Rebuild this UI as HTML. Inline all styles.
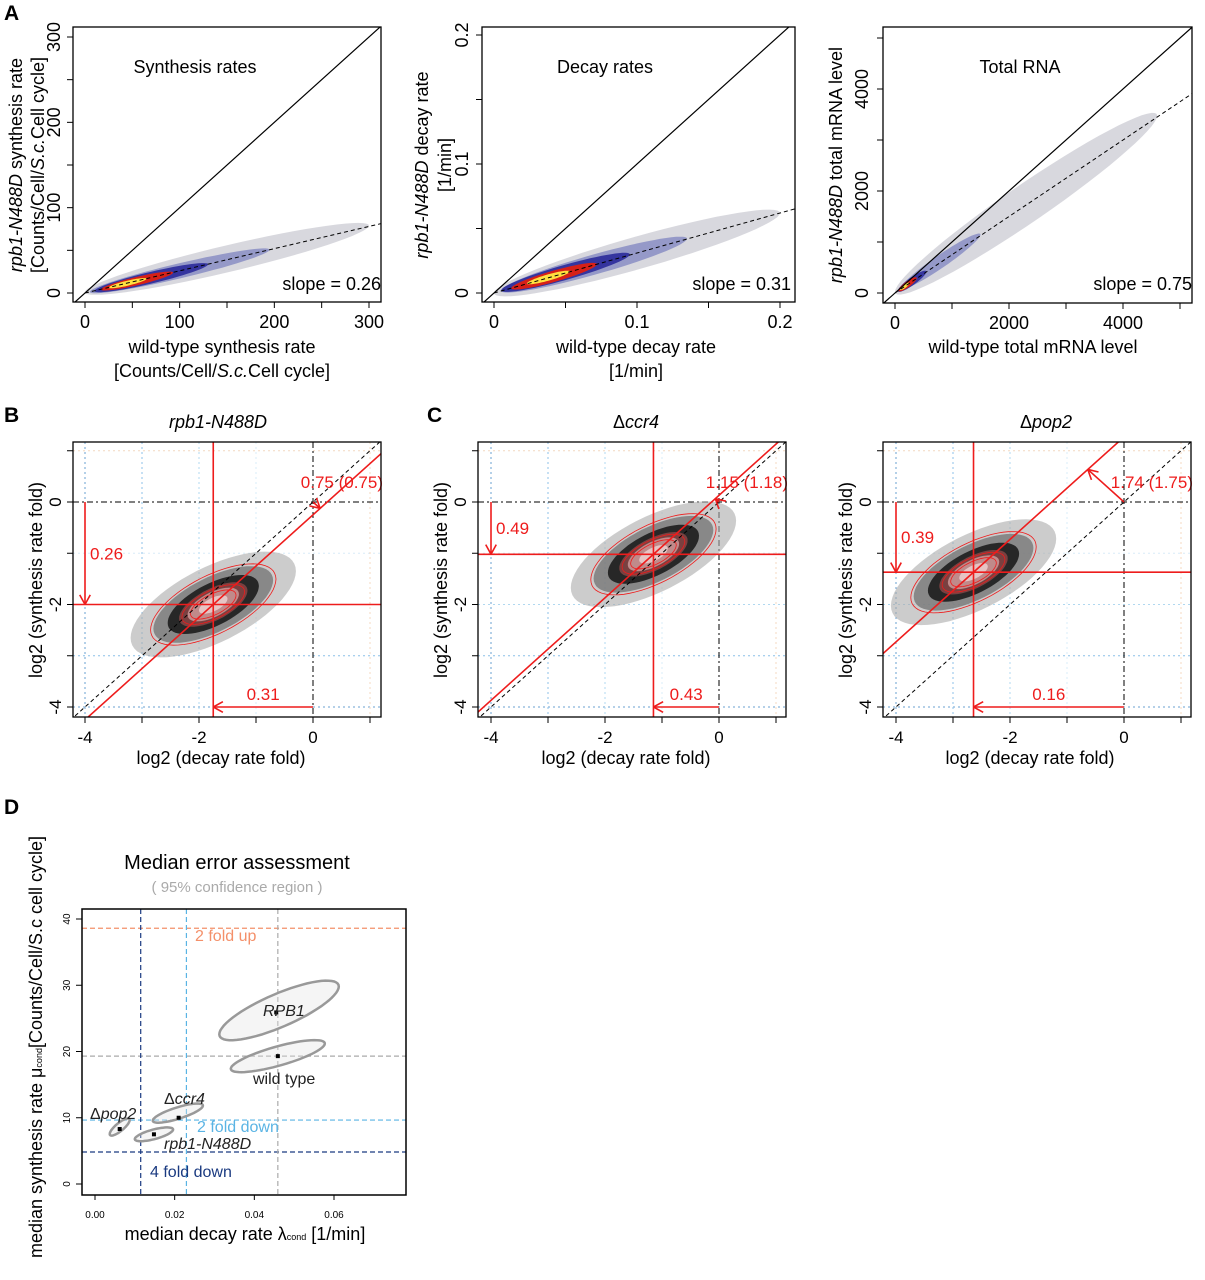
<!DOCTYPE html>
<html><head><meta charset="utf-8"><style>
body{margin:0;background:#fff}
svg{display:block;font-family:"Liberation Sans",sans-serif}
</style></head><body>
<svg id="fig" width="1205" height="1280" viewBox="0 0 1205 1280">
<defs>
<clipPath id="cA1"><rect x="73" y="27" width="308" height="275"/></clipPath>
<clipPath id="cA2"><rect x="482" y="27" width="313" height="275"/></clipPath>
<clipPath id="cA3"><rect x="883" y="27" width="309" height="276"/></clipPath>
<clipPath id="cB"><rect x="73" y="442" width="308" height="275"/></clipPath>
<clipPath id="cC"><rect x="478" y="442" width="308" height="275"/></clipPath>
<clipPath id="cP"><rect x="883" y="442" width="308" height="275"/></clipPath>
<clipPath id="cD"><rect x="82" y="909" width="324" height="286"/></clipPath>
</defs>
<g font-weight="bold" font-size="21">
<text x="4" y="20">A</text>
<text x="4" y="422">B</text>
<text x="427" y="422">C</text>
<text x="4" y="814">D</text>
</g>
<g font-size="18">
<text x="195" y="73" text-anchor="middle">Synthesis rates</text>
<text x="605" y="73" text-anchor="middle">Decay rates</text>
<text x="1020" y="73" text-anchor="middle">Total RNA</text>
<text x="381" y="290" text-anchor="end">slope = 0.26</text>
<text x="791" y="290" text-anchor="end">slope = 0.31</text>
<text x="1192" y="290" text-anchor="end">slope = 0.75</text>
<text x="222" y="353" text-anchor="middle">wild-type synthesis rate</text>
<text x="222" y="377" text-anchor="middle">[Counts/Cell/<tspan font-style="italic">S.c.</tspan>Cell cycle]</text>
<text x="636" y="353" text-anchor="middle">wild-type decay rate</text>
<text x="636" y="377" text-anchor="middle">[1/min]</text>
<text x="1033" y="353" text-anchor="middle">wild-type total mRNA level</text>
<text transform="translate(22,165) rotate(-90)" text-anchor="middle"><tspan font-style="italic">rpb1-N488D</tspan> synthesis rate</text>
<text transform="translate(44,165) rotate(-90)" text-anchor="middle">[Counts/Cell/<tspan font-style="italic">S.c.</tspan>Cell cycle]</text>
<text transform="translate(428,165) rotate(-90)" text-anchor="middle"><tspan font-style="italic">rpb1-N488D</tspan> decay rate</text>
<text transform="translate(451,165) rotate(-90)" text-anchor="middle">[1/min]</text>
<text transform="translate(842,165) rotate(-90)" text-anchor="middle"><tspan font-style="italic">rpb1-N488D</tspan> total mRNA level</text>
<text x="218" y="428" text-anchor="middle" font-style="italic">rpb1-N488D</text>
<text x="636" y="428" text-anchor="middle">Δ<tspan font-style="italic">ccr4</tspan></text>
<text x="1046" y="428" text-anchor="middle">Δ<tspan font-style="italic">pop2</tspan></text>
<text x="221" y="764" text-anchor="middle">log2 (decay rate fold)</text>
<text x="626" y="764" text-anchor="middle">log2 (decay rate fold)</text>
<text x="1030" y="764" text-anchor="middle">log2 (decay rate fold)</text>
<text transform="translate(42,580) rotate(-90)" text-anchor="middle">log2 (synthesis rate fold)</text>
<text transform="translate(447,580) rotate(-90)" text-anchor="middle">log2 (synthesis rate fold)</text>
<text transform="translate(852,580) rotate(-90)" text-anchor="middle">log2 (synthesis rate fold)</text>
<text x="237" y="869" text-anchor="middle" font-size="20">Median error assessment</text>
<text x="237" y="892" text-anchor="middle" font-size="15" fill="#aaa">( 95% confidence region )</text>
<text x="245" y="1240" text-anchor="middle">median decay rate λ<tspan font-size="9">cond</tspan>    [1/min]</text>
<text transform="translate(42,1047) rotate(-90)" text-anchor="middle">median synthesis rate μ<tspan font-size="9">cond</tspan>[Counts/Cell/S.c cell cycle]</text>
</g>
</svg>
<script>
// ---- Panel A data ----
const a1Ticks=[0,50,100,150,200,250,300], a1Labels=["0","","100","","200","","300"];
const a2Ticks=[0,0.05,0.1,0.15,0.2], a2Labels=["0","","0.1","","0.2"];
const a3Ticks=[0,1000,2000,3000,4000,5000], a3Labels=["0","","2000","","4000",""];
const a1Slope=0.26, a2Slope=0.31, a3Slope=0.75;
const a1Cx=[150,100,70,55,45], a1Cy=[40,26,18,14,11.5], a1A=[150,95,60,38,20], a1B=[16,9,7,5,3];
const a2Cx=[0.1,0.07,0.05,0.042,0.038], a2Cy=[0.031,0.022,0.016,0.013,0.012], a2A=[0.1,0.065,0.045,0.03,0.015], a2B=[0.013,0.008,0.006,0.0045,0.0025];
const a3Cx=[2300,800,300,220,170], a3Cy=[1750,620,230,170,130], a3A=[2300,700,250,160,80], a3B=[450,150,90,70,40];
// ---- Panel B/C data ----
const bcTicks=[-4,-3,-2,-1,0,1], bcLabels=["-4","","-2","","0",""];
const medDecay=[-1.75,-1.15,-2.64], medSynth=[-2.0,-1.02,-1.37];
const diagLabel=["0.75 (0.75)","1.15 (1.18)","1.74 (1.75)"], synthLabel=["0.26","0.49","0.39"], decayLabel=["0.31","0.43","0.16"];
// ---- Panel D data ----
const dXTicks=[0,0.02,0.04,0.06], dXLabels=["0.00","0.02","0.04","0.06"];
const dYTicks=[0,10,20,30,40];
const ellName=["RPB1","wild type","ccr4","rpb1-N488D","pop2"];
const ellCx=[0.0462,0.0459,0.0208,0.0148,0.0062], ellCy=[26.2,19.3,10.7,7.5,8.6];
const ellA=[0.015,0.0118,0.0063,0.0048,0.0025], ellS=[240,161,180,150,420], ellB=[2.7,1.5,0.9,0.75,0.75];
const medX=[0.0455,0.0459,0.021,0.0148,0.0062], medY=[25.9,19.3,10.0,7.5,8.3];
const wtMedDecay=0.0459, wtMedSynth=19.3;

const svg=document.getElementById('fig'), NS='http://www.w3.org/2000/svg';
function el(tag,at,p){const e=document.createElementNS(NS,tag);for(const k in at)e.setAttribute(k,at[k]);(p||svg).appendChild(e);return e;}
function lin(d0,d1,r0,r1){return v=>r0+(v-d0)*(r1-r0)/(d1-d0);}
function ellPts(sx,sy,cx,cy,a,b,s){let p=[];for(let i=0;i<64;i++){const t=i/64*2*Math.PI;const x=cx+a*Math.cos(t),y=cy+s*a*Math.cos(t)+b*Math.sin(t);p.push(sx(x).toFixed(1)+','+sy(y).toFixed(1));}return p.join(' ');}

function axes(g,box,sx,sy,xt,xl,yt,yl,ylx,fs){
  const r=el('rect',{x:box[0],y:box[1],width:box[2]-box[0],height:box[3]-box[1],fill:'none',stroke:'#000','stroke-width':1.3},g);
  
  
  xt.forEach((v,i)=>{el('line',{x1:sx(v),x2:sx(v),y1:box[3],y2:box[3]+6,stroke:'#000'},g);
    if(xl[i]){const t=el('text',{x:sx(v),y:box[3]+26,'text-anchor':'middle','font-size':fs},g);t.textContent=xl[i];
    
    }});
  yt.forEach((v,i)=>{el('line',{x1:box[0],x2:box[0]-6,y1:sy(v),y2:sy(v),stroke:'#000'},g);
    if(yl[i]){const t=el('text',{transform:`translate(${ylx},${sy(v)}) rotate(-90)`,'text-anchor':'middle','font-size':fs},g);t.textContent=yl[i];
    
    }});
}

// Panel A
const aCols=['#c8c8d0','#8a8ec4','#2a2a9a','#e02010','#ffe040'];
const aOp=[0.7,0.85,0.9,0.95,1];
function panelA(id,box,sx,sy,xt,xl,yt,yl,ylx,slope,cx,cy,A,B,clip){
  const g=el('g',{});
  
  
  const c=el('g',{'clip-path':`url(#${clip})`},g);
  for(let i=0;i<cx.length;i++){const p=el('polygon',{points:ellPts(sx,sy,cx[i],cy[i],A[i],B[i],slope),fill:aCols[i],opacity:aOp[i]},c);
    
    }
  const big=xt[xt.length-1]*2;
  const d=el('line',{x1:sx(-big),y1:sy(-big),x2:sx(big),y2:sy(big),stroke:'#000','stroke-width':1.2},c);
  
  
  const f=el('line',{x1:sx(0),y1:sy(0),x2:sx(big),y2:sy(slope*big),stroke:'#000','stroke-dasharray':'4,3'},c);
  
  
  axes(g,box,sx,sy,xt,xl,yt,yl,ylx,18);
}
panelA('plot-synthesis',[73,27,381,302],lin(0,300,85,369),lin(0,300,293,37),a1Ticks,a1Labels,a1Ticks,a1Labels,60,a1Slope,a1Cx,a1Cy,a1A,a1B,'cA1');
panelA('plot-decay',[482,27,795,302],lin(0,0.1,494,637),lin(0,0.1,293,164),a2Ticks,a2Labels,a2Ticks,a2Labels,468,a2Slope,a2Cx,a2Cy,a2A,a2B,'cA2');
panelA('plot-total-rna',[883,27,1192,303],lin(0,2000,895,1009),lin(0,2000,293,191),a3Ticks,a3Labels,a3Ticks,a3Labels,868,a3Slope,a3Cx,a3Cy,a3A,a3B,'cA3');

// Panels B/C/pop2
const RED='#ee1c1c';
function arrowHead(g,x2,y2,ang){const L=11;[0.5,-0.5].forEach(d=>{el('line',{x1:x2,y1:y2,x2:x2+L*Math.cos(ang+d),y2:y2+L*Math.sin(ang+d),stroke:RED,'stroke-width':1.6},g);});}
function panelBC(k,name,box,x0,clip){
  const sx=lin(-4,0,x0,x0+228), sy=lin(0,-4,502,707);
  const g=el('g',{});
  
  
  const c=el('g',{'clip-path':`url(#${clip})`},g);
  [[-4,'#6aa0d0'],[-3,'#8cc0e8'],[-2,'#b0d8f0'],[-1,'#d8ecf8']].forEach(([v,col])=>{
    el('line',{x1:sx(v),x2:sx(v),y1:box[1],y2:box[3],stroke:col,'stroke-dasharray':'2,3'},c);
    el('line',{x1:box[0],x2:box[2],y1:sy(v),y2:sy(v),stroke:col,'stroke-dasharray':'2,3'},c);});
  el('line',{x1:sx(1),x2:sx(1),y1:box[1],y2:box[3],stroke:'#f4d8c0','stroke-dasharray':'2,3'},c);
  el('line',{x1:box[0],x2:box[2],y1:sy(1),y2:sy(1),stroke:'#f4d8c0','stroke-dasharray':'2,3'},c);
  el('line',{x1:sx(0),x2:sx(0),y1:box[1],y2:box[3],stroke:'#000','stroke-dasharray':'6,3,2,3'},c);
  el('line',{x1:box[0],x2:box[2],y1:sy(0),y2:sy(0),stroke:'#000','stroke-dasharray':'6,3,2,3'},c);
  const mx=medDecay[k], my=medSynth[k];
  const layers=[[1.45,0.8,'#aaa',0.6],[1.05,0.58,'#777',0.8],[0.8,0.45,'#222',0.95],[0.6,0.34,'#7a4040',1],[0.45,0.26,'#c08a8a',1],[0.25,0.14,'#e6c4c4',1]];
  layers.forEach(([a,b,col,op])=>{const p=el('polygon',{points:ellPts(sx,sy,mx,my,a,b,0.45),fill:col,opacity:op},c);
    
    });
  [[1.1,0.62],[0.55,0.3],[0.4,0.22]].forEach(([a,b])=>el('polygon',{points:ellPts(sx,sy,mx,my,a,b,0.45),fill:'none',stroke:RED,'stroke-width':0.8},c));
  const off=my-mx;
  el('line',{x1:sx(-6),y1:sy(-6),x2:sx(3),y2:sy(3),stroke:'#000','stroke-dasharray':'4,3'},c);
  const rl=el('line',{x1:sx(-6),y1:sy(-6+off),x2:sx(3),y2:sy(3+off),stroke:RED,'stroke-width':1.6},c);
  
  
  const vl=el('line',{x1:sx(mx),x2:sx(mx),y1:box[1],y2:box[3],stroke:RED,'stroke-width':1.6},c);
  
  
  const hl=el('line',{x1:box[0],x2:box[2],y1:sy(my),y2:sy(my),stroke:RED,'stroke-width':1.6},c);
  
  
  el('line',{x1:sx(-4),y1:sy(0),x2:sx(-4),y2:sy(my),stroke:RED,'stroke-width':1.6},g);arrowHead(g,sx(-4),sy(my),-Math.PI/2);
  el('line',{x1:sx(0),y1:sy(-4),x2:sx(mx),y2:sy(-4),stroke:RED,'stroke-width':1.6},g);arrowHead(g,sx(mx),sy(-4),0);
  const fx=-off/2, fy=off/2, ax=sx(fx), ay=sy(fy);
  el('line',{x1:sx(0),y1:sy(0),x2:ax,y2:ay,stroke:RED,'stroke-width':1.6},g);
  arrowHead(g,ax,ay,Math.atan2(sy(0)-ay,sx(0)-ax));
  const t1=el('text',{x:box[2]+2,y:488,'text-anchor':'end','font-size':17,fill:RED},g);t1.textContent=diagLabel[k];
  
  
  const t2=el('text',{x:sx(-4)+5,y:sy(0)+(sy(my)-sy(0))/2+6,'font-size':17,fill:RED},g);t2.textContent=synthLabel[k];
  
  
  const t3=el('text',{x:(sx(0)+sx(mx))/2,y:sy(-4)-7,'text-anchor':'middle','font-size':17,fill:RED},g);t3.textContent=decayLabel[k];
  
  
  axes(g,box,sx,sy,bcTicks,bcLabels,bcTicks,bcLabels,box[0]-12,17);
}
panelBC(0,'plot-rpb1',[73,442,381,717],85,'cB');
panelBC(1,'plot-ccr4',[478,442,786,717],491,'cC');
panelBC(2,'plot-pop2',[883,442,1191,717],896,'cP');

// Panel D
(function(){
  const sx=lin(0,0.06,95,334), sy=lin(0,40,1184,919), box=[82,909,406,1195];
  const g=el('g',{});
  
  
  const c=el('g',{'clip-path':'url(#cD)'},g);
  const hl=[[wtMedSynth*2,'#f4906a','2 fold up',195,941],[wtMedSynth,'#aaa','',0,0],[wtMedSynth/2,'#5ab4e4','2 fold down',197,1132],[wtMedSynth/4,'#1a3a80','4 fold down',150,1177]];
  hl.forEach(([v,col,lab,lx,ly])=>{const l=el('line',{x1:box[0],x2:box[2],y1:sy(v),y2:sy(v),stroke:col,'stroke-dasharray':'5,3','stroke-width':1.2},c);
    
    
    if(lab){const t=el('text',{x:lx,y:ly,'font-size':16,fill:col},g);t.textContent=lab;
    
    }});
  [[wtMedDecay/4,'#1a3a80'],[wtMedDecay/2,'#5ab4e4'],[wtMedDecay,'#aaa']].forEach(([v,col])=>el('line',{x1:sx(v),x2:sx(v),y1:box[1],y2:box[3],stroke:col,'stroke-dasharray':'5,3','stroke-width':1.2},c));
  for(let i=0;i<ellCx.length;i++){
    const p=el('polygon',{points:ellPts(sx,sy,ellCx[i],ellCy[i],ellA[i],ellB[i],ellS[i]),fill:'rgba(225,225,225,0.35)',stroke:'#999','stroke-width':2.5},c);
    
    
    const m=el('rect',{x:sx(medX[i])-2,y:sy(medY[i])-2,width:4,height:4,fill:'#000'},c);
    
    
  }
  const labs=[['RPB1',263,1016,true,false],['wild type',253,1084,false,false],['ccr4',164,1104,true,true],['rpb1-N488D',164,1149,true,false],['pop2',90,1119,true,true]];
  labs.forEach(([s,x,y,it,delta])=>{const t=el('text',{x:x,y:y,'font-size':16,fill:'#222'},g);
    if(delta){t.textContent='Δ';const ts=el('tspan',{'font-style':'italic'},t);ts.textContent=s;}else{t.textContent=s;if(it)t.setAttribute('font-style','italic');}
    
    });
  const r=el('rect',{x:box[0],y:box[1],width:box[2]-box[0],height:box[3]-box[1],fill:'none',stroke:'#000','stroke-width':1.5},g);
  
  
  dXTicks.forEach((v,i)=>{el('line',{x1:sx(v),x2:sx(v),y1:box[3],y2:box[3]+5,stroke:'#000'},g);
    const t=el('text',{x:sx(v),y:1218,'text-anchor':'middle','font-size':10},g);t.textContent=dXLabels[i];
    
    });
  dYTicks.forEach(v=>{el('line',{x1:box[0],x2:box[0]-6,y1:sy(v),y2:sy(v),stroke:'#000'},g);
    const t=el('text',{transform:`translate(70,${sy(v)}) rotate(-90)`,'text-anchor':'middle','font-size':10},g);t.textContent=String(v);
    
    });
})();
</script>
</body></html>
